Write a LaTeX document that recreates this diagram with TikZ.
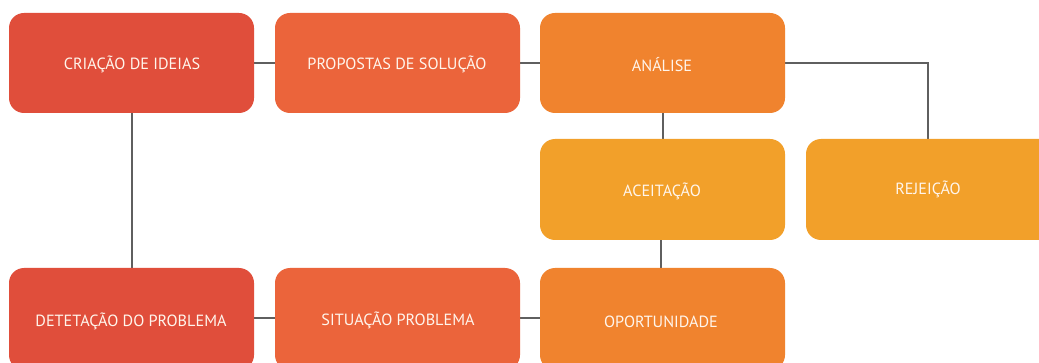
\documentclass[tikz,border=0pt]{standalone}
\usepackage{fontspec}
\setmainfont{PT Sans}
\definecolor{cred}{HTML}{E04E3B}
\definecolor{corA}{HTML}{EB643B}
\definecolor{corB}{HTML}{F0832E}
\definecolor{cyel}{HTML}{F2A02A}
\definecolor{cline}{HTML}{5F5F5F}
\definecolor{ctext}{HTML}{FFF5EC}
\begin{document}
\begin{tikzpicture}[x=1pt,y=-1pt,
  box/.style={rounded corners=15pt, draw=none},
  lbl/.style={text=ctext, font=\fontsize{16.2}{18}\selectfont, inner sep=0pt},
  conn/.style={draw=cline, line width=2pt}]
\useasboundingbox (0,0) rectangle (1039,363);
\clip (0,0) rectangle (1039,363);
\fill[white] (0,0) rectangle (1039,363);
% connectors
\coordinate (k1) at (928,63);
\draw[conn] (254,63) -- (275,63);
\draw[conn] (520,63) -- (540,63);
\draw[conn] (785,63) -- (k1) -- (928,139);
\draw[conn] (132,113) -- (132,268);
\draw[conn] (663,113) -- (663,139);
\draw[conn] (661,240) -- (661,268);
\draw[conn] (254,318) -- (275,318);
\draw[conn] (520,318) -- (540,318);
% boxes
\fill[box,cred] (9,13) rectangle (254,113);
\fill[box,corA] (275,13) rectangle (520,113);
\fill[box,corB] (540,13) rectangle (785,113);
\fill[box,cyel] (540,139) rectangle (785,240);
\fill[box,cyel] (806,139) rectangle (1060,240);
\fill[box,cred] (9,268) rectangle (254,370);
\fill[box,corA] (275,268) rectangle (520,370);
\fill[box,corB] (540,268) rectangle (785,370);
% labels
\node[lbl] (n1) at (132,64.5) {CRIAÇÃO DE IDEIAS};
\node[lbl] (n2) at (397,64.5) {PROPOSTAS DE SOLUÇÃO};
\node[lbl] (n3) at (662,64.5) {ANÁLISE};
\node[lbl] (n4) at (662,191.5) {ACEITAÇÃO};
\node[lbl] (n5) at (928,189.5) {REJEIÇÃO};
\node[lbl] (n6) at (131,321.5) {DETETAÇÃO DO PROBLEMA};
\node[lbl] (n7) at (398,320.5) {SITUAÇÃO PROBLEMA};
\node[lbl] (n8) at (661,321.5) {OPORTUNIDADE};
\end{tikzpicture}
\end{document}
